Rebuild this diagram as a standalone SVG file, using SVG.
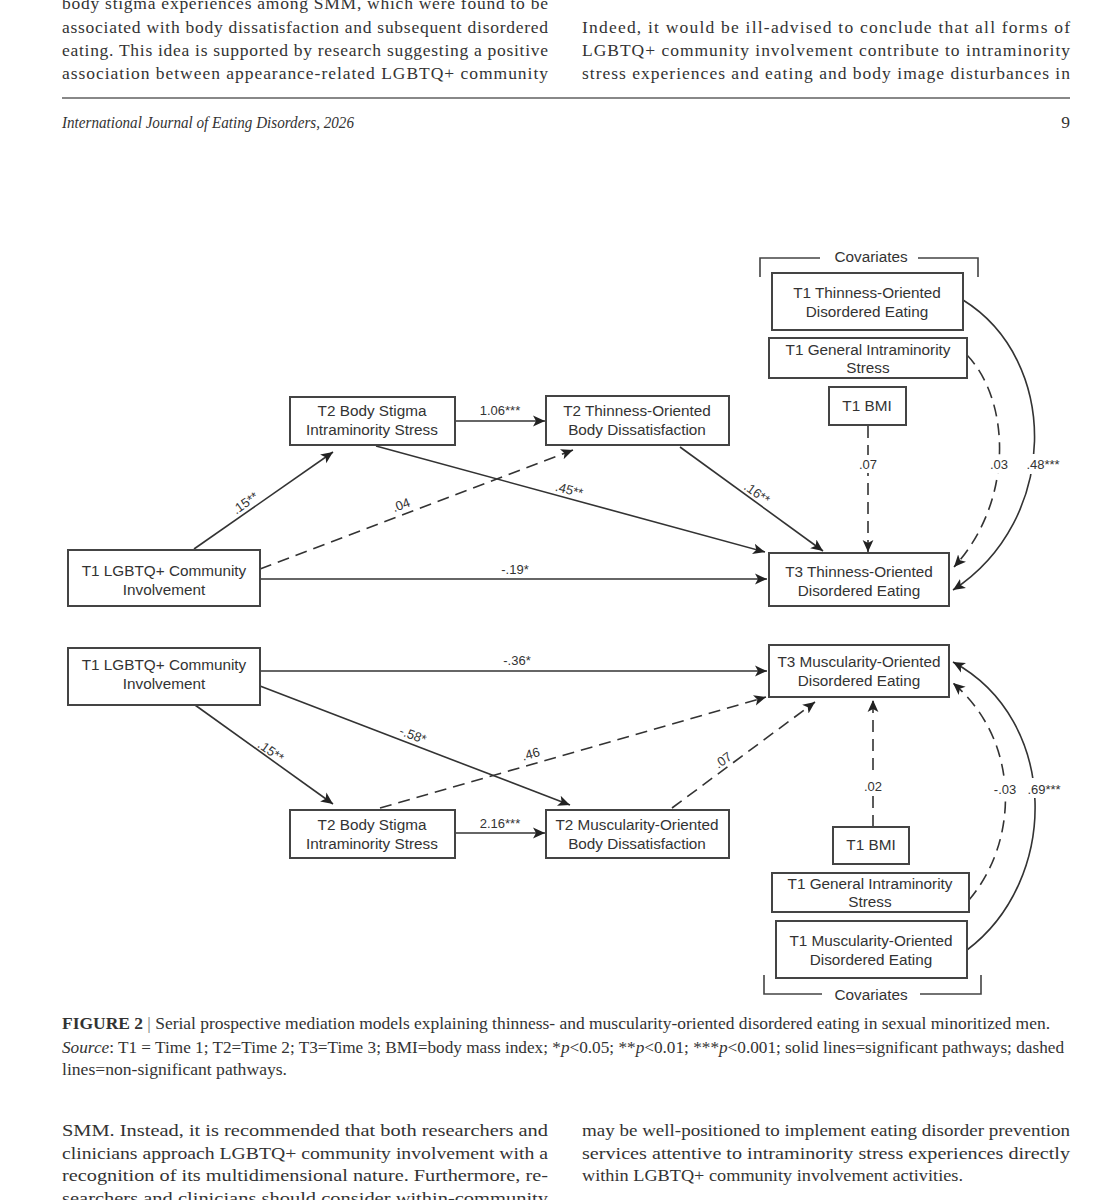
<svg xmlns="http://www.w3.org/2000/svg" width="1112" height="1200" viewBox="0 0 1112 1200">
<defs>
<style>
.body{font-family:"Liberation Serif","Times New Roman",serif;font-size:17.5px;fill:#333}
.cap{font-family:"Liberation Serif","Times New Roman",serif;font-size:16px;fill:#333}
.node rect{fill:#fff;stroke:#444;stroke-width:2}
.nt{font-family:"Liberation Sans",Arial,sans-serif;font-size:15.3px;fill:#333;text-anchor:middle}
.lbl{font-family:"Liberation Sans",Arial,sans-serif;font-size:13px;fill:#333;text-anchor:middle}
.sol{fill:none;stroke:#333;stroke-width:1.6}
.dash{fill:none;stroke:#333;stroke-width:1.6;stroke-dasharray:12 7}
.br{fill:none;stroke:#444;stroke-width:1.6}
</style>
<marker id="ah" viewBox="0 0 10 10" refX="10" refY="5" markerWidth="12" markerHeight="12" markerUnits="userSpaceOnUse" orient="auto">
<path d="M0,0.5 L10,5 L0,9.5 L2.5,5 z" fill="#222"/>
</marker>
</defs>
<rect width="1112" height="1200" fill="#fff"/>

<!-- page text top -->
<g id="page-top">
<text class="body" x="62" y="9" textLength="486" lengthAdjust="spacing">body stigma experiences among SMM, which were found to be</text>
<text class="body" x="62" y="33" textLength="486" lengthAdjust="spacing">associated with body dissatisfaction and subsequent disordered</text>
<text class="body" x="62" y="56" textLength="486" lengthAdjust="spacing">eating. This idea is supported by research suggesting a positive</text>
<text class="body" x="62" y="79" textLength="486" lengthAdjust="spacing">association between appearance-related LGBTQ+ community</text>
<text class="body" x="582" y="33" textLength="488" lengthAdjust="spacing">Indeed, it would be ill-advised to conclude that all forms of</text>
<text class="body" x="582" y="56" textLength="488" lengthAdjust="spacing">LGBTQ+ community involvement contribute to intraminority</text>
<text class="body" x="582" y="79" textLength="488" lengthAdjust="spacing">stress experiences and eating and body image disturbances in</text>
<line x1="62" y1="98" x2="1070" y2="98" stroke="#888" stroke-width="2"/>
<text class="body" x="62" y="128" font-size="14.5" font-style="italic" textLength="292" lengthAdjust="spacingAndGlyphs">International Journal of Eating Disorders, 2026</text>
<text class="body" x="1070" y="128" font-size="15" text-anchor="end">9</text>
</g>

<!-- connectors -->
<g id="connectors">
<!-- top model -->
<line class="sol" x1="455" y1="421" x2="545" y2="421" marker-end="url(#ah)"/>
<line class="sol" x1="194" y1="549" x2="333" y2="452" marker-end="url(#ah)"/>
<line class="dash" x1="260" y1="569" x2="573" y2="450" marker-end="url(#ah)"/>
<line class="sol" x1="376" y1="446" x2="765" y2="552" marker-end="url(#ah)"/>
<line class="sol" x1="680" y1="447" x2="823" y2="551" marker-end="url(#ah)"/>
<line class="sol" x1="260" y1="579" x2="767" y2="579" marker-end="url(#ah)"/>
<line class="dash" x1="868" y1="426" x2="868" y2="552" marker-end="url(#ah)"/>
<path class="dash" d="M967,355 C1010,400 1015,500 954,567" marker-end="url(#ah)"/>
<path class="sol" d="M963,300 C1060,360 1060,520 953,590" marker-end="url(#ah)"/>
<!-- bottom model -->
<line class="sol" x1="260" y1="671" x2="767" y2="671" marker-end="url(#ah)"/>
<line class="dash" x1="380" y1="808" x2="766" y2="697" marker-end="url(#ah)"/>
<line class="dash" x1="672" y1="808" x2="815" y2="702" marker-end="url(#ah)"/>
<line class="sol" x1="195" y1="705" x2="333" y2="804" marker-end="url(#ah)"/>
<line class="sol" x1="260" y1="686" x2="570" y2="805" marker-end="url(#ah)"/>
<line class="sol" x1="455" y1="833" x2="545" y2="833" marker-end="url(#ah)"/>
<line class="dash" x1="873" y1="827" x2="873" y2="700" marker-end="url(#ah)"/>
<path class="dash" d="M969,900 C1020,840 1020,740 953,683" marker-end="url(#ah)"/>
<path class="sol" d="M967,950 C1060,880 1060,720 953,662" marker-end="url(#ah)"/>
</g>

<!-- connector labels -->
<g id="labels">
<text class="lbl" x="500" y="415">1.06***</text>
<text class="lbl" transform="translate(250,510) rotate(-35)" y="-4">.15**</text>
<text class="lbl" transform="translate(404,513) rotate(-20)" y="-4">.04</text>
<text class="lbl" transform="translate(567,498) rotate(15)" y="-4">.45**</text>
<text class="lbl" transform="translate(752,500) rotate(36)" y="-4">.16**</text>
<text class="lbl" x="515" y="574">-.19*</text>
<rect x="855" y="455" width="26" height="18" fill="#fff"/>
<text class="lbl" x="868" y="469">.07</text>
<rect x="987" y="455" width="24" height="18" fill="#fff"/>
<text class="lbl" x="999" y="469">.03</text>
<rect x="1020" y="454" width="46" height="20" fill="#fff"/>
<text class="lbl" x="1043" y="469">.48***</text>

<text class="lbl" x="517" y="665">-.36*</text>
<text class="lbl" transform="translate(533,762) rotate(-16)" y="-4">.46</text>
<text class="lbl" transform="translate(728,767) rotate(-36)" y="-4">.07</text>
<text class="lbl" transform="translate(266,758) rotate(35.6)" y="-4">.15**</text>
<text class="lbl" transform="translate(410,743) rotate(21)" y="-4">-.58*</text>
<text class="lbl" x="500" y="828">2.16***</text>
<rect x="860" y="776" width="26" height="19" fill="#fff"/>
<text class="lbl" x="873" y="791">.02</text>
<rect x="989" y="779" width="32" height="19" fill="#fff"/>
<text class="lbl" x="1005" y="794">-.03</text>
<rect x="1021" y="778" width="46" height="20" fill="#fff"/>
<text class="lbl" x="1044" y="794">.69***</text>
</g>

<!-- covariate brackets -->
<g id="covariates-top">
<path class="br" d="M760,277 V258 H820 M918,258 H978 V277"/>
<text class="nt" x="871" y="262" font-size="14.5">Covariates</text>
</g>
<g id="covariates-bottom">
<path class="br" d="M764,975 V994 H822 M920,994 H981 V975"/>
<text class="nt" x="871" y="1000" font-size="14.5">Covariates</text>
</g>

<!-- top model nodes -->
<g id="t1-thin-de" class="node"><rect x="772" y="273" width="191" height="57"/>
<text class="nt" x="867" y="298">T1 Thinness-Oriented</text><text class="nt" x="867" y="317">Disordered Eating</text></g>
<g id="t1-gen-stress-a" class="node"><rect x="769" y="338" width="198" height="40"/>
<text class="nt" x="868" y="355">T1 General Intraminority</text><text class="nt" x="868" y="373">Stress</text></g>
<g id="t1-bmi-a" class="node"><rect x="829" y="387" width="77" height="38"/>
<text class="nt" x="867" y="411">T1 BMI</text></g>
<g id="t2-stigma-a" class="node"><rect x="290" y="397" width="165" height="48"/>
<text class="nt" x="372" y="416">T2 Body Stigma</text><text class="nt" x="372" y="435">Intraminority Stress</text></g>
<g id="t2-thin-bd" class="node"><rect x="546" y="396" width="183" height="49"/>
<text class="nt" x="637" y="416">T2 Thinness-Oriented</text><text class="nt" x="637" y="435">Body Dissatisfaction</text></g>
<g id="t1-comm-a" class="node"><rect x="68" y="550" width="192" height="56"/>
<text class="nt" x="164" y="576">T1 LGBTQ+ Community</text><text class="nt" x="164" y="595">Involvement</text></g>
<g id="t3-thin-de" class="node"><rect x="769" y="553" width="180" height="53"/>
<text class="nt" x="859" y="577">T3 Thinness-Oriented</text><text class="nt" x="859" y="596">Disordered Eating</text></g>

<!-- bottom model nodes -->
<g id="t1-comm-b" class="node"><rect x="68" y="648" width="192" height="57"/>
<text class="nt" x="164" y="670">T1 LGBTQ+ Community</text><text class="nt" x="164" y="689">Involvement</text></g>
<g id="t3-musc-de" class="node"><rect x="769" y="645" width="180" height="52"/>
<text class="nt" x="859" y="667">T3 Muscularity-Oriented</text><text class="nt" x="859" y="686">Disordered Eating</text></g>
<g id="t2-stigma-b" class="node"><rect x="290" y="810" width="165" height="48"/>
<text class="nt" x="372" y="830">T2 Body Stigma</text><text class="nt" x="372" y="849">Intraminority Stress</text></g>
<g id="t2-musc-bd" class="node"><rect x="546" y="810" width="183" height="48"/>
<text class="nt" x="637" y="830">T2 Muscularity-Oriented</text><text class="nt" x="637" y="849">Body Dissatisfaction</text></g>
<g id="t1-bmi-b" class="node"><rect x="833" y="827" width="76" height="37"/>
<text class="nt" x="871" y="850">T1 BMI</text></g>
<g id="t1-gen-stress-b" class="node"><rect x="772" y="873" width="197" height="39"/>
<text class="nt" x="870" y="889">T1 General Intraminority</text><text class="nt" x="870" y="907">Stress</text></g>
<g id="t1-musc-de" class="node"><rect x="776" y="921" width="191" height="57"/>
<text class="nt" x="871" y="946">T1 Muscularity-Oriented</text><text class="nt" x="871" y="965">Disordered Eating</text></g>

<!-- caption -->
<g id="caption">
<text class="cap" x="62" y="1029" textLength="988" lengthAdjust="spacingAndGlyphs"><tspan font-weight="bold">FIGURE 2</tspan><tspan fill="#777">  |  </tspan>Serial prospective mediation models explaining thinness- and muscularity-oriented disordered eating in sexual minoritized men.</text>
<text class="cap" x="62" y="1053" textLength="1002" lengthAdjust="spacingAndGlyphs"><tspan font-style="italic">Source</tspan>: T1 = Time 1; T2=Time 2; T3=Time 3; BMI=body mass index; *<tspan font-style="italic">p</tspan>&lt;0.05; **<tspan font-style="italic">p</tspan>&lt;0.01; ***<tspan font-style="italic">p</tspan>&lt;0.001; solid lines=significant pathways; dashed</text>
<text class="cap" x="62" y="1075" textLength="225" lengthAdjust="spacingAndGlyphs">lines=non-significant pathways.</text>
</g>

<!-- page text bottom -->
<g id="page-bottom">
<text class="body" x="62" y="1136" font-size="18.5" textLength="486" lengthAdjust="spacingAndGlyphs">SMM. Instead, it is recommended that both researchers and</text>
<text class="body" x="62" y="1159" font-size="18.5" textLength="486" lengthAdjust="spacingAndGlyphs">clinicians approach LGBTQ+ community involvement with a</text>
<text class="body" x="62" y="1181" font-size="18.5" textLength="486" lengthAdjust="spacingAndGlyphs">recognition of its multidimensional nature. Furthermore, re-</text>
<text class="body" x="62" y="1204" font-size="18.5" textLength="486" lengthAdjust="spacingAndGlyphs">searchers and clinicians should consider within-community</text>
<text class="body" x="582" y="1136" font-size="18.5" textLength="488" lengthAdjust="spacingAndGlyphs">may be well-positioned to implement eating disorder prevention</text>
<text class="body" x="582" y="1159" font-size="18.5" textLength="488" lengthAdjust="spacingAndGlyphs">services attentive to intraminority stress experiences directly</text>
<text class="body" x="582" y="1181" font-size="18.5" textLength="381" lengthAdjust="spacingAndGlyphs">within LGBTQ+ community involvement activities.</text>
</g>
</svg>
